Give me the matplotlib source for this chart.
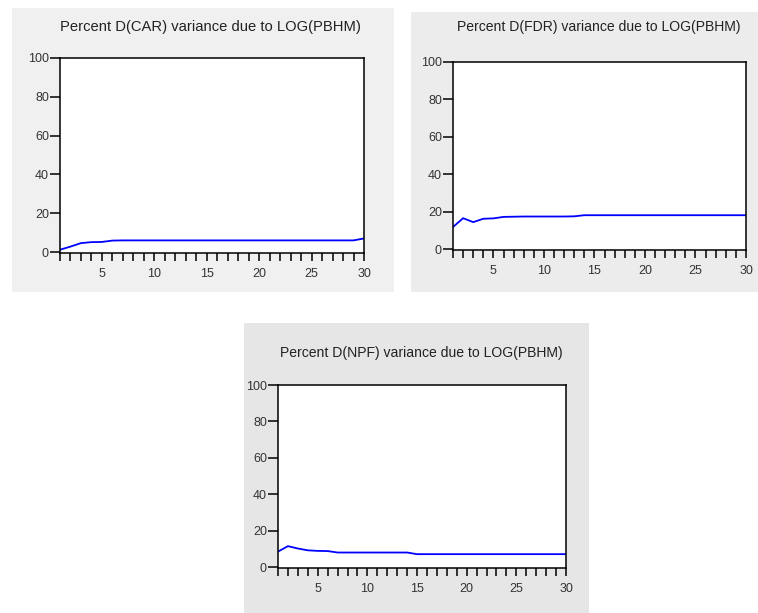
import matplotlib
matplotlib.use("Agg")
import matplotlib.pyplot as plt
from matplotlib.patches import Rectangle
from matplotlib.ticker import MultipleLocator, FixedLocator

plt.rcParams['font.family'] = ['Liberation Sans', 'DejaVu Sans']

periods = list(range(1, 31))

car = [1.2, 2.8, 4.6, 5.1, 5.2, 5.9, 6.0, 6.0, 6.0, 6.0,
       6.0, 6.0, 6.0, 6.0, 6.0, 6.0, 6.0, 6.0, 6.0, 6.0,
       6.0, 6.0, 6.0, 6.0, 6.0, 6.0, 6.0, 6.0, 6.0, 7.0]

fdr = [11.8, 16.5, 14.4, 16.2, 16.4, 17.2, 17.3, 17.4, 17.4, 17.4,
       17.4, 17.4, 17.5, 18.1, 18.1, 18.1, 18.1, 18.1, 18.1, 18.1,
       18.1, 18.1, 18.1, 18.1, 18.1, 18.1, 18.1, 18.1, 18.1, 18.1]

npf = [8.5, 11.5, 10.2, 9.2, 8.9, 8.8, 8.0, 8.0, 8.0, 8.0,
       8.0, 8.0, 8.0, 8.0, 7.1, 7.1, 7.1, 7.1, 7.1, 7.1,
       7.1, 7.1, 7.1, 7.1, 7.1, 7.1, 7.1, 7.1, 7.1, 7.1]

titles = ["Percent D(CAR) variance due to LOG(PBHM)",
          "Percent D(FDR) variance due to LOG(PBHM)",
          "Percent D(NPF) variance due to LOG(PBHM)"]

xticks = [5, 10, 15, 20, 25, 30]
yticks = [0, 20, 40, 60, 80, 100]

W, H = 758, 613
fig = plt.figure(figsize=(W / 100, H / 100), dpi=100)
fig.patch.set_facecolor('white')

def px_rect(l, t, r, b):
    return [l / W, (H - b) / H, (r - l) / W, (b - t) / H]

# gray panels (left, top, right, bottom) in pixels
panels = [((12, 8, 394, 292), '#f0f0f0'),
          ((411, 12, 758, 292), '#ececec'),
          ((244, 323, 589, 613), '#e6e6e6')]
for (l, t, r, b), c in panels:
    x, y, w, h = px_rect(l, t, r, b)
    fig.add_artist(Rectangle((x, y), w, h, transform=fig.transFigure,
                             facecolor=c, edgecolor='none', zorder=0))

axes_px = [(60, 58, 364, 253), (453, 62, 746, 250), (278, 385, 566, 568)]
title_pos = [(210, 27), (599, 27), (421, 353)]
title_size = [10.6, 10.1, 10.1]
series = [car, fdr, npf]

for (box, tp, ts, data, title) in zip(axes_px, title_pos, title_size, series, titles):
    ax = fig.add_axes(px_rect(*box))
    ax.set_facecolor('white')
    ax.plot(periods, data, color='#0000ff', lw=1.3)
    ax.set_xlim(1, 30)
    ax.set_ylim(-0.5, 100)
    ax.xaxis.set_major_locator(FixedLocator(xticks))
    ax.xaxis.set_minor_locator(MultipleLocator(1))
    ax.yaxis.set_major_locator(FixedLocator(yticks))
    ax.tick_params(axis='x', which='both', direction='out', length=6,
                   width=1.1, color='black', labelsize=9, pad=5,
                   labelcolor='#333333')
    ax.tick_params(axis='y', which='major', direction='out', length=7,
                   width=1.1, color='black', labelsize=9, pad=1,
                   labelcolor='#333333')
    for s in ax.spines.values():
        s.set_color('black')
        s.set_linewidth(1.1)
    fig.text(tp[0] / W, (H - tp[1]) / H, title, ha='center', va='center',
             fontsize=ts, color='#222222')

fig.savefig('out.png', dpi=100)
